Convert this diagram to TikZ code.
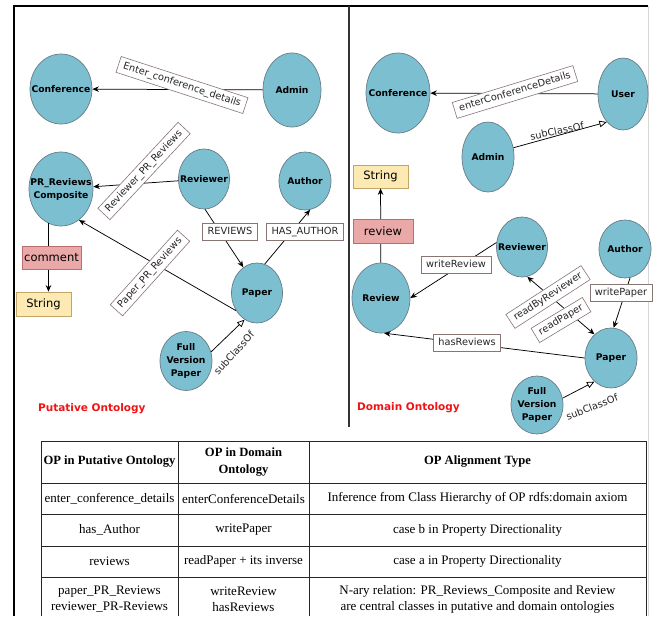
\documentclass[tikz,border=0pt]{standalone}
\usepackage{fontspec}
\setmainfont{Liberation Serif}
\newfontfamily\dejavu{DejaVu Sans}
\usetikzlibrary{arrows.meta,shapes.geometric}

\definecolor{clsfill}{RGB}{124,191,208}
\definecolor{clsline}{RGB}{105,125,135}
\definecolor{lblline}{RGB}{135,118,115}
\definecolor{litfill}{RGB}{253,233,178}
\definecolor{litline}{RGB}{196,165,105}
\definecolor{propfill}{RGB}{234,168,168}
\definecolor{propline}{RGB}{185,110,110}
\definecolor{titlered}{RGB}{240,20,20}
\definecolor{framegray}{RGB}{215,215,215}

\begin{document}
\begin{tikzpicture}[x=1pt,y=-1pt,
  cls/.style 2 args={ellipse, draw=clsline, fill=clsfill, line width=0.7pt,
    minimum width=#1, minimum height=#2, inner sep=0pt},
  clstext/.style={font=\dejavu\bfseries\fontsize{9.2}{13}\selectfont, align=center, inner sep=0pt},
  oplabel/.style={draw=lblline, fill=white, line width=0.6pt,
    font=\dejavu\fontsize{9.8}{12}\selectfont, text=black!85,
    inner xsep=5pt, inner ysep=3.5pt, text height=7.4pt, text depth=2.2pt},
  subtext/.style={font=\dejavu\fontsize{9.8}{12}\selectfont, text=black!85, inner sep=1pt},
  litbox/.style={draw=litline, fill=litfill, line width=0.7pt,
    font=\dejavu\fontsize{11.5}{13}\selectfont, inner sep=0pt},
  propbox/.style={draw=propline, fill=propfill, line width=0.7pt,
    font=\dejavu\fontsize{11.5}{13}\selectfont, inner sep=0pt},
  rel/.style={draw=black, line width=0.75pt, -{Stealth[length=6.5pt,width=5.5pt]}},
  relboth/.style={draw=black, line width=0.75pt,
    {Stealth[length=6.5pt,width=5.5pt]}-{Stealth[length=6.5pt,width=5.5pt]}},
  isa/.style={draw=black, line width=0.75pt, -{Triangle[open,length=7.5pt,width=6.5pt]}},
  title/.style={font=\dejavu\bfseries\fontsize{10.5}{12}\selectfont, text=titlered,
    anchor=west, inner sep=0pt},
  cell/.style={font=\fontsize{13}{16}\selectfont, align=center, inner sep=0pt},
  head/.style={font=\bfseries\fontsize{12.6}{17.5}\selectfont, align=center, inner sep=0pt}
]
\fill[white] (0,0) rectangle (655,616);
\useasboundingbox (0,0) rectangle (655,616);

% outer frame and the divider between the two ontologies
\draw[framegray, line width=1pt] (648,6) -- (648,616);
\draw[line width=1.8pt] (14,616) -- (14,6) -- (648,6);
\draw[black!80, line width=1.8pt] (349,6) -- (349,427);

% ---------------- putative ontology ----------------
\node[cls={62}{70}, label={[clstext]center:Conference}] (confL) at (61,89) {};
\node[cls={58}{74}, label={[clstext]center:Admin}] (adminL) at (292,90) {};
\node[cls={64}{74}, label={[clstext]center:{PR\_Reviews\\Composite}}] (prc) at (61,189) {};
\node[cls={51}{60}, label={[clstext]center:Reviewer}] (reviewerL) at (204,179) {};
\node[cls={52}{58}, label={[clstext]center:Author}] (authorL) at (305,181) {};
\node[cls={51}{60}, label={[clstext]center:Paper}] (paperL) at (257,293) {};
\node[cls={52}{59}, label={[clstext]center:{Full\\Version\\Paper}}] (fvpL) at (186,361) {};
\node[litbox, minimum width=55, minimum height=24] (stringL) at (43.5,304) {String};

\draw[rel] (adminL) -- (confL);
\draw[rel] (reviewerL) -- (prc);
\draw[rel] (paperL.220) -- (prc.-60);
\draw[rel] (reviewerL.-88) -- (paperL.118);
\draw[rel] (paperL.75) -- (authorL.-80);
\draw[isa] (fvpL.20) -- (paperL.245);
\draw[rel] (prc.-110) -- (prc.-110 |- stringL.north);

\node[propbox, minimum width=59, minimum height=23] (commentL) at (51.5,257.5) {comment};
\node[oplabel, rotate=-18] (lEnter) at (182,85) {Enter\_conference\_details};
\node[oplabel, rotate=47] (lRevPR) at (144,171) {Reviewer\_PR\_Reviews};
\node[oplabel, rotate=48] (lPapPR) at (150,273) {Paper\_PR\_Reviews};
\node[oplabel] (lReviews) at (230,232) {REVIEWS};
\node[oplabel] (lHasAuthor) at (305,232) {HAS\_AUTHOR};
\node[subtext, rotate=48] (lSubL) at (234,353) {subClassOf};
\node[title] (tPut) at (38,409) {Putative Ontology};

% ---------------- domain ontology ----------------
\node[cls={64}{80}, label={[clstext]center:Conference}] (confR) at (398,93) {};
\node[cls={50}{72}, label={[clstext]center:User}] (userR) at (623,94) {};
\node[cls={52}{70}, label={[clstext]center:Admin}] (adminR) at (488,157) {};
\node[litbox, minimum width=55, minimum height=23] (stringR) at (380.5,176.5) {String};
\node[cls={58}{70}, label={[clstext]center:Review}] (reviewR) at (381,298) {};
\node[cls={51}{60}, label={[clstext]center:Reviewer}] (reviewerR) at (522,247) {};
\node[cls={52}{58}, label={[clstext]center:Author}] (authorR) at (625,249) {};
\node[cls={52}{60}, label={[clstext]center:Paper}] (paperR) at (611,358) {};
\node[cls={52}{58}, label={[clstext]center:{Full\\Version\\Paper}}] (fvpR) at (537,405) {};

\draw[rel] (userR) -- (confR);
\draw[isa] (adminR.20) -- (userR.240);
\draw[rel] (reviewR) -- (stringR);
\draw[rel] (reviewerR.170) -- (reviewR.east);
\draw[rel] (paperR.west) -- (reviewR.-85);
\draw[rel] (authorR.-80) -- (paperR.85);
\draw[relboth] (reviewerR.-80) -- (paperR.125);
\draw[isa] (fvpR.15) -- (paperR.235);

\node[propbox, minimum width=60, minimum height=24] (reviewP) at (383,231) {review};
\node[oplabel, rotate=17] (lEnterR) at (515,92) {enterConferenceDetails};
\node[subtext, rotate=12] (lSubR1) at (557,131) {subClassOf};
\node[oplabel] (lWriteRev) at (456,265) {writeReview};
\node[oplabel] (lHasRev) at (467,343) {hasReviews};
\node[oplabel] (lWritePaper) at (621,293) {writePaper};
\node[oplabel, rotate=33] (lReadBy) at (548,297) {readByReviewer};
\node[oplabel, rotate=31] (lReadPaper) at (561,320) {readPaper};
\node[subtext, rotate=21] (lSubR2) at (592,407) {subClassOf};
\node[title] (tDom) at (357,408) {Domain Ontology};

% ---------------- alignment table ----------------
\draw[black!85, line width=0.8pt] (41,616) -- (41,441) -- (646,441) -- (646,616);
\foreach \yy in {483,514,546,577} \draw[black!85, line width=0.8pt] (41,\yy) -- (646,\yy);
\foreach \xx in {178,309} \draw[black!85, line width=0.8pt] (\xx,441) -- (\xx,616);

\node[head] (h1) at (109.5,462) {OP in Putative Ontology};
\node[head] (h2) at (243.5,462) {OP in Domain\\Ontology};
\node[head] (h3) at (477.5,462) {OP Alignment Type};

\node[cell] (r1a) at (109.5,498.5) {enter\_conference\_details};
\node[cell] (r1b) at (243.5,498.5) {enterConferenceDetails};
\node[cell] (r1c) at (477.5,498.5) {Inference from Class Hierarchy of OP rdfs:domain axiom};

\node[cell] (r2a) at (109.5,530) {has\_Author};
\node[cell] (r2b) at (243.5,530) {writePaper};
\node[cell] (r2c) at (477.5,530) {case b in Property Directionality};

\node[cell] (r3a) at (109.5,561.5) {reviews};
\node[cell] (r3b) at (243.5,561.5) {readPaper + its inverse};
\node[cell] (r3c) at (477.5,561.5) {case a in Property Directionality};

\node[cell] (r4a) at (109.5,599) {paper\_PR\_Reviews\\reviewer\_PR-Reviews};
\node[cell] (r4b) at (243.5,599) {writeReview\\hasReviews};
\node[cell] (r4c) at (477.5,599) {N-ary relation: PR\_Reviews\_Composite and Review\\are central classes in putative and domain ontologies};
\end{tikzpicture}
\end{document}
